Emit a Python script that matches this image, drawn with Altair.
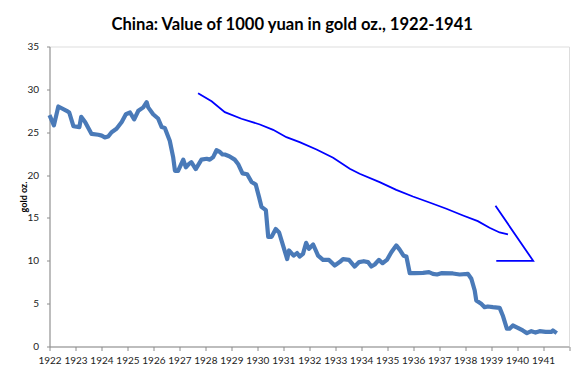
import altair as alt
import pandas as pd

# Main series: value of 1000 yuan in gold oz.
years = [1922.00, 1922.17, 1922.34, 1922.66, 1922.76, 1922.92, 1923.15, 1923.22, 1923.37, 1923.62,
         1923.88, 1924.01, 1924.13, 1924.26, 1924.39, 1924.58, 1924.78, 1924.94, 1925.10, 1925.26,
         1925.42, 1925.61, 1925.74, 1925.80, 1925.99, 1926.18, 1926.32, 1926.44, 1926.63, 1926.76,
         1926.83, 1926.95, 1927.15, 1927.25, 1927.37, 1927.46, 1927.63, 1927.85, 1928.05, 1928.17,
         1928.30, 1928.43, 1928.56, 1928.66, 1928.75, 1928.92, 1929.13, 1929.26, 1929.43, 1929.61,
         1929.78, 1929.94, 1930.07, 1930.16, 1930.33, 1930.42, 1930.55, 1930.71, 1930.84, 1930.99,
         1931.15, 1931.22, 1931.40, 1931.53, 1931.63, 1931.76, 1931.88, 1931.99, 1932.15, 1932.34,
         1932.53, 1932.76, 1932.98, 1933.17, 1933.30, 1933.53, 1933.75, 1933.92, 1934.10, 1934.26,
         1934.39, 1934.52, 1934.68, 1934.82, 1934.99, 1935.16, 1935.35, 1935.48, 1935.63, 1935.74,
         1935.87, 1936.06, 1936.38, 1936.61, 1936.76, 1936.92, 1937.08, 1937.53, 1937.79, 1938.11,
         1938.24, 1938.37, 1938.43, 1938.62, 1938.75, 1938.88, 1939.07, 1939.33, 1939.45, 1939.61,
         1939.71, 1939.84, 1940.03, 1940.22, 1940.38, 1940.55, 1940.71, 1940.87, 1941.10, 1941.32,
         1941.38, 1941.53]
values = [27.0, 25.8, 28.0, 27.5, 27.3, 25.7, 25.6, 26.8, 26.2, 24.8,
          24.7, 24.6, 24.4, 24.5, 25.0, 25.4, 26.2, 27.1, 27.3, 26.5,
          27.5, 27.9, 28.5, 27.9, 27.1, 26.6, 25.6, 25.5, 24.0, 22.1,
          20.5, 20.5, 21.8, 20.9, 21.3, 21.5, 20.7, 21.8, 21.9, 21.8,
          22.1, 22.9, 22.7, 22.4, 22.4, 22.2, 21.8, 21.3, 20.2, 20.1,
          19.2, 18.9, 17.4, 16.3, 15.9, 12.8, 12.8, 13.7, 13.3, 11.8,
          10.2, 11.2, 10.6, 10.9, 10.5, 10.8, 12.1, 11.4, 11.9, 10.6,
          10.1, 10.1, 9.45, 9.85, 10.2, 10.1, 9.33, 9.85, 9.95, 9.85,
          9.33, 9.57, 10.1, 9.72, 10.1, 11.0, 11.8, 11.3, 10.6, 10.5,
          8.55, 8.55, 8.6, 8.67, 8.48, 8.4, 8.55, 8.52, 8.4, 8.48,
          7.9, 6.53, 5.37, 4.98, 4.59, 4.67, 4.59, 4.51, 3.62, 2.07,
          2.07, 2.45, 2.18, 1.87, 1.56, 1.79, 1.63, 1.79, 1.71, 1.71,
          1.87, 1.56]

# Hand-drawn annotation: downward trend curve
trend_x = [1927.72, 1928.24, 1928.75, 1929.39, 1930.10, 1930.61, 1931.12, 1931.63, 1932.28, 1932.92,
           1933.56, 1933.94, 1934.71, 1935.35, 1935.99, 1936.63, 1937.28, 1937.92, 1938.49, 1938.94,
           1939.33, 1939.65]
trend_y = [29.55, 28.62, 27.34, 26.57, 25.90, 25.28, 24.42, 23.84, 22.99, 22.02,
           20.73, 20.15, 19.17, 18.28, 17.50, 16.80, 16.07, 15.28, 14.62, 13.85,
           13.30, 13.07]

# Hand-drawn arrowhead
arrow_x = [1939.17, 1940.62, 1939.20]
arrow_y = [16.42, 10.0, 10.0]

x_ticks = list(range(1922, 1943))
y_ticks = [0, 5, 10, 15, 20, 25, 30, 35]

FONT = "Lato"

main_df = pd.DataFrame({"year": years, "value": values, "i": range(len(years))})
trend_df = pd.DataFrame({"year": trend_x, "value": trend_y, "i": range(len(trend_x))})
arrow_df = pd.DataFrame({"year": arrow_x, "value": arrow_y, "i": range(len(arrow_x))})

x_enc = alt.X("year:Q",
              scale=alt.Scale(domain=[1922, 1942], nice=False, zero=False),
              axis=alt.Axis(values=x_ticks, format="d", title=None,
                            labelExpr="datum.value < 1942 ? datum.value : ''",
                            labelOverlap=False, labelFlush=False,
                            tickSize=4, labelPadding=5, labelFontSize=10,
                            labelFont=FONT, labelColor="#222",
                            domainColor="#8c8c8c", tickColor="#8c8c8c", grid=False))
y_enc = alt.Y("value:Q",
              scale=alt.Scale(domain=[0, 35], nice=False),
              axis=alt.Axis(values=y_ticks, title="gold oz.", titleFont=FONT,
                            titleFontSize=9, titleFontWeight="bold", titleColor="#000",
                            titlePadding=-2, tickSize=3, labelPadding=8, labelFontSize=10,
                            labelFont=FONT, labelColor="#222", labelOverlap=False,
                            domainColor="#8c8c8c", tickColor="#8c8c8c", grid=False))

main = alt.Chart(main_df).mark_line(color="#4a7ab8", strokeWidth=4.2, strokeJoin="round").encode(
    x=x_enc, y=y_enc, order="i:Q")
trend = alt.Chart(trend_df).mark_line(color="#0000ff", strokeWidth=1.8).encode(
    x=x_enc, y=y_enc, order="i:Q")
arrow = alt.Chart(arrow_df).mark_line(color="#0000ff", strokeWidth=1.8).encode(
    x=x_enc, y=y_enc, order="i:Q")

chart = alt.layer(main, trend, arrow).properties(
    width=519.5, height=300,
    title=alt.TitleParams("China: Value of 1000 yuan in gold oz., 1922-1941",
                          font=FONT, fontSize=16.6, fontWeight="bold", color="#000",
                          anchor="middle", dx=-17, offset=8),
    autosize=alt.AutoSizeParams(type="none"),
    padding={"left": 41.5, "top": 38.5, "right": 7, "bottom": 18},
).configure_view(stroke=None).configure(background="white")

chart.save("out.html", embed_options={"renderer": "svg", "actions": False})
